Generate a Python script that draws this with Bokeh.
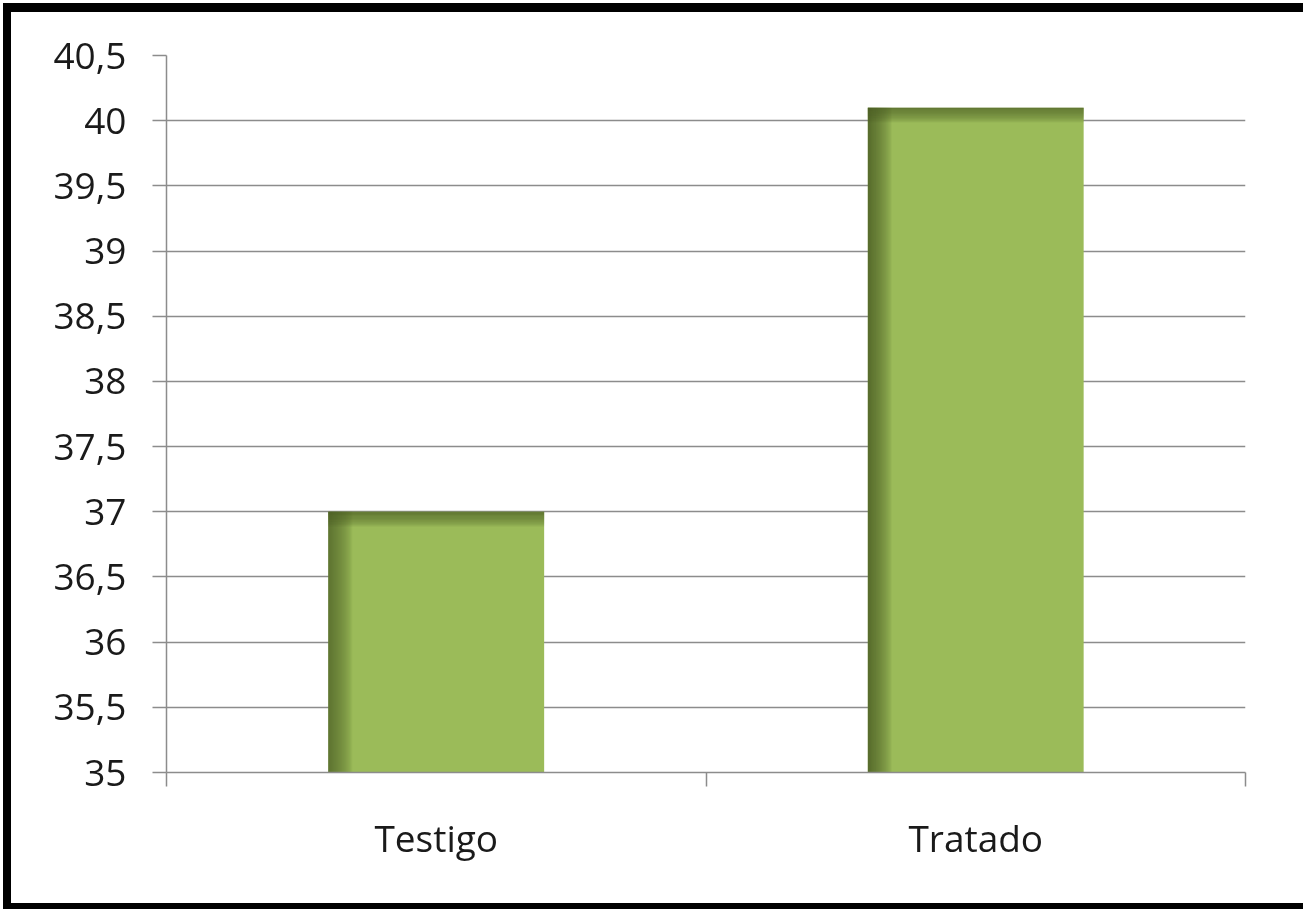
from bokeh.plotting import figure
from bokeh.models import FixedTicker, LinearAxis, Range1d, ColumnDataSource, Grid
from bokeh.embed import file_html
from bokeh.resources import INLINE

# ---- data ----
categories = ["Testigo", "Tratado"]
values = [37.0, 40.1]
y_ticks = [35, 35.5, 36, 36.5, 37, 37.5, 38, 38.5, 39, 39.5, 40, 40.5]
y_tick_labels = ["35", "35,5", "36", "36,5", "37", "37,5", "38", "38,5",
                 "39", "39,5", "40", "40,5"]

# ---- styling ----
Y_MIN, Y_MAX = 35, 40.5
W, H = 1292, 891
B_LEFT, B_RIGHT, B_TOP, B_BOTTOM = 155, 58, 43, 131
FRAME_W = W - B_LEFT - B_RIGHT
FRAME_H = H - B_TOP - B_BOTTOM
BAR_W = 0.4
BASE = "#9BBB59"
DARK = "#4A5C24"
GRID = "#8c8c8c"
FONT = "Open Sans"
FS = "37px"
TXT = "#1a1a1a"

n_cat = len(categories)
centers = [i + 0.5 for i in range(n_cat)]
bounds = list(range(n_cat + 1))

p = figure(width=W, height=H, x_range=Range1d(0, n_cat), y_range=Range1d(Y_MIN, Y_MAX),
           output_backend="svg", toolbar_location=None, x_axis_type=None, y_axis_type=None,
           min_border_left=B_LEFT, min_border_right=B_RIGHT,
           min_border_top=B_TOP, min_border_bottom=B_BOTTOM)
# black frame drawn as shadows (does not change the layout size)
p.styles = {"position": "fixed", "left": "11px", "top": "12px",
            "box-shadow": "-8px 0 0 0 black, 0 -9px 0 0 black, 0 6px 0 0 black, "
                          "-8px -9px 0 0 black, -8px 6px 0 0 black"}
p.background_fill_color = "white"
p.border_fill_color = "white"
p.outline_line_color = None

# y axis
yax = LinearAxis(ticker=FixedTicker(ticks=y_ticks, minor_ticks=[]))
yax.major_label_overrides = {t: l for t, l in zip(y_ticks, y_tick_labels)}
yax.axis_line_color = GRID
yax.axis_line_width = 1.5
yax.major_tick_line_color = GRID
yax.major_tick_line_width = 1.5
yax.major_tick_out = 14
yax.major_tick_in = 0
yax.minor_tick_line_color = None
yax.major_label_standoff = 26
yax.major_label_text_font = FONT
yax.major_label_text_font_size = FS
yax.major_label_text_color = TXT
p.add_layout(yax, "left")

# x axis: category boundary ticks
xax = LinearAxis(ticker=FixedTicker(ticks=bounds, minor_ticks=[]))
xax.major_label_overrides = {b: "" for b in bounds}
xax.major_label_text_font_size = "1px"
xax.major_label_standoff = 0
xax.axis_line_color = GRID
xax.axis_line_width = 1.5
xax.major_tick_line_color = GRID
xax.major_tick_line_width = 1.5
xax.major_tick_out = 14
xax.major_tick_in = 0
xax.minor_tick_line_color = None
p.add_layout(xax, "below")

# x axis: category labels
xlab = LinearAxis(ticker=FixedTicker(ticks=centers, minor_ticks=[]))
xlab.major_label_overrides = {c: n for c, n in zip(centers, categories)}
xlab.axis_line_color = None
xlab.major_tick_line_color = None
xlab.minor_tick_line_color = None
xlab.major_label_standoff = 19
xlab.major_label_text_font = FONT
xlab.major_label_text_font_size = FS
xlab.major_label_text_color = TXT
p.add_layout(xlab, "below")

# grid
p.add_layout(Grid(dimension=1, ticker=FixedTicker(ticks=y_ticks, minor_ticks=[]),
                  grid_line_color=GRID, grid_line_width=1.5))

# bars
src = ColumnDataSource(dict(x=centers, top=values))
p.vbar(x="x", top="top", bottom=Y_MIN, width=BAR_W, source=src,
       fill_color=BASE, line_color=None)

# bevel shading (left edge and top edge gradients)
px_x = FRAME_W / n_cat            # pixels per x unit
px_y = FRAME_H / (Y_MAX - Y_MIN)  # pixels per y unit
N = 24
left_px, top_px = 24, 15
lq = dict(left=[], right=[], top=[], bottom=[], alpha=[])
for c, v in zip(centers, values):
    x0 = c - BAR_W / 2
    x1 = c + BAR_W / 2
    for i in range(N):
        a = 0.95 * (1 - (i + 0.5) / N) ** 0.75
        lq["left"].append(x0 + i * left_px / N / px_x)
        lq["right"].append(x0 + (i + 1) * left_px / N / px_x)
        lq["top"].append(v)
        lq["bottom"].append(Y_MIN)
        lq["alpha"].append(a)
        lq["left"].append(x0)
        lq["right"].append(x1)
        lq["top"].append(v - i * top_px / N / px_y)
        lq["bottom"].append(v - (i + 1) * top_px / N / px_y)
        lq["alpha"].append(a * 0.9)
p.quad(left="left", right="right", top="top", bottom="bottom", source=ColumnDataSource(lq),
       fill_color=DARK, fill_alpha="alpha", line_color=None)

open("out.html", "w").write(file_html(p, INLINE))
